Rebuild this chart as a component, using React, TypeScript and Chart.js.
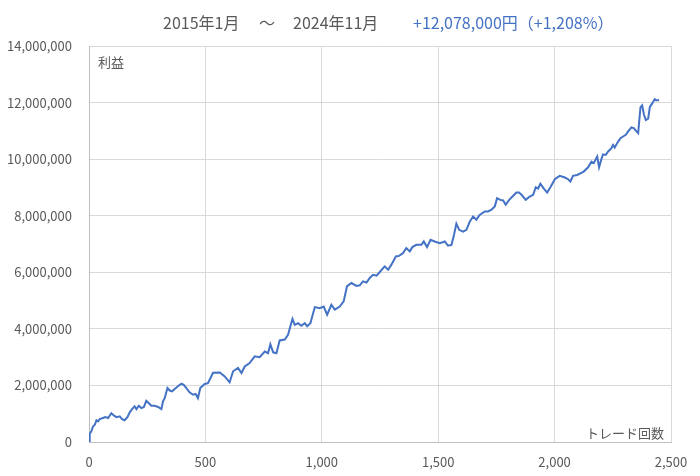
import React, { useEffect, useRef } from "react";
import { Chart, registerables } from "chart.js";

Chart.register(...registerables);

const TITLE_FROM = "2015年1月";
const TITLE_SEP = "〜";
const TITLE_TO = "2024年11月";
const TITLE_RESULT = "+12,078,000円（+1,208%）";
const Y_LABEL = "利益";
const X_LABEL = "トレード回数";

const X_MIN = 0;
const X_MAX = 2500;
const X_STEP = 500;
const Y_MIN = 0;
const Y_MAX = 14000000;
const Y_STEP = 2000000;

const TRADES = [
  0, 3, 10, 17, 25, 32, 39, 46, 60, 70, 82, 96, 108, 118, 132, 142, 153, 165, 175, 185,
  196, 204, 214, 225, 236, 246, 256, 268, 282, 297, 311, 318, 325, 337, 347, 357, 368, 382, 397, 407,
  415, 433, 447, 458, 468, 478, 497, 511, 533, 562, 583, 604, 619, 640, 655, 669, 690, 712, 733, 755,
  769, 779, 791, 805, 819, 841, 855, 865, 874, 884, 898, 912, 927, 937, 951, 970, 991, 1008, 1023, 1041,
  1056, 1077, 1094, 1108, 1127, 1149, 1163, 1177, 1192, 1206, 1220, 1235, 1249, 1270, 1285, 1299, 1318, 1332, 1349, 1363,
  1378, 1389, 1406, 1428, 1438, 1452, 1467, 1485, 1507, 1528, 1542, 1557, 1568, 1578, 1590, 1607, 1621, 1636, 1650, 1664,
  1678, 1700, 1714, 1729, 1743, 1753, 1767, 1779, 1790, 1805, 1819, 1836, 1847, 1858, 1876, 1893, 1908, 1919, 1929, 1939,
  1953, 1968, 1982, 2001, 2022, 2044, 2058, 2068, 2079, 2097, 2111, 2125, 2144, 2158, 2168, 2183, 2191, 2201, 2208, 2220,
  2230, 2244, 2251, 2258, 2273, 2283, 2294, 2306, 2316, 2330, 2340, 2352, 2359, 2363, 2369, 2376, 2384, 2392, 2402, 2409,
  2420, 2430, 2437, 2449,
];

const PROFIT = [
  0, 290000, 380000, 550000, 610000, 770000, 730000, 810000, 850000, 880000, 850000, 1020000, 930000, 880000, 910000, 810000, 770000, 880000, 1050000, 1160000,
  1260000, 1160000, 1280000, 1200000, 1240000, 1460000, 1380000, 1280000, 1280000, 1240000, 1160000, 1440000, 1550000, 1910000, 1820000, 1790000, 1870000, 1970000, 2060000, 2020000,
  1940000, 1750000, 1670000, 1700000, 1550000, 1910000, 2050000, 2080000, 2450000, 2460000, 2320000, 2110000, 2500000, 2620000, 2440000, 2670000, 2790000, 3030000, 3000000, 3200000,
  3140000, 3460000, 3170000, 3140000, 3590000, 3620000, 3790000, 4090000, 4350000, 4140000, 4200000, 4110000, 4200000, 4090000, 4200000, 4770000, 4730000, 4790000, 4500000, 4850000,
  4680000, 4790000, 4970000, 5500000, 5620000, 5520000, 5540000, 5680000, 5640000, 5800000, 5910000, 5880000, 6010000, 6210000, 6090000, 6270000, 6560000, 6580000, 6680000, 6860000,
  6740000, 6890000, 6970000, 6970000, 7090000, 6890000, 7150000, 7090000, 7030000, 7090000, 6940000, 6970000, 7330000, 7720000, 7500000, 7440000, 7500000, 7800000, 7970000, 7860000,
  8030000, 8150000, 8150000, 8210000, 8330000, 8620000, 8560000, 8540000, 8390000, 8560000, 8680000, 8820000, 8820000, 8740000, 8560000, 8680000, 8740000, 9010000, 8960000, 9130000,
  8970000, 8820000, 9010000, 9290000, 9410000, 9350000, 9290000, 9210000, 9410000, 9440000, 9500000, 9560000, 9710000, 9910000, 9860000, 10090000, 9710000, 10000000, 10170000, 10150000,
  10270000, 10390000, 10500000, 10410000, 10620000, 10740000, 10800000, 10860000, 10980000, 11120000, 11100000, 10980000, 10920000, 11300000, 11840000, 11900000, 11570000, 11380000, 11430000, 11840000,
  11980000, 12120000, 12080000, 12078000,
];

const FONT = "'Noto Sans CJK JP', 'Noto Sans', sans-serif";
const GRAY = "#595959";
const BLUE = "#4472C4";
const GRID = "#D9D9D9";

const fmt = (v: number) => Number(v).toLocaleString("en-US");

export default function App() {
  const ref = useRef<HTMLCanvasElement | null>(null);

  useEffect(() => {
    if (!ref.current) return;
    const textPlugin = {
      id: "textPlugin",
      afterDraw(chart: any) {
        const { ctx, chartArea } = chart;
        ctx.save();
        ctx.textBaseline = "middle";
        ctx.font = `16px ${FONT}`;
        ctx.textAlign = "left";
        ctx.fillStyle = GRAY;
        ctx.fillText(TITLE_FROM, 163, 23);
        ctx.fillText(TITLE_SEP, 259, 23);
        ctx.fillText(TITLE_TO, 293, 23);
        ctx.fillStyle = BLUE;
        ctx.fillText(TITLE_RESULT, 413, 23);
        ctx.font = `13px ${FONT}`;
        ctx.fillStyle = GRAY;
        ctx.fillText(Y_LABEL, chartArea.left + 9, 62);
        ctx.textAlign = "right";
        ctx.fillText(X_LABEL, chartArea.right - 7, 433);
        ctx.restore();
      },
    };

    const chart = new Chart(ref.current, {
      type: "line",
      data: {
        datasets: [
          {
            data: TRADES.map((t, i) => ({ x: t, y: PROFIT[i] })),
            borderColor: BLUE,
            backgroundColor: BLUE,
            borderWidth: 2,
            pointRadius: 0,
            tension: 0,
            fill: false,
          },
        ],
      },
      options: {
        animation: false,
        responsive: false,
        layout: { padding: { left: 0, right: 29, top: 46, bottom: 0 } },
        plugins: {
          legend: { display: false },
          title: { display: false },
          tooltip: { enabled: false },
        },
        scales: {
          x: {
            type: "linear",
            min: X_MIN,
            max: X_MAX,
            ticks: {
              stepSize: X_STEP,
              color: GRAY,
              font: { family: FONT, size: 13 },
              padding: 12,
              maxRotation: 0,
              callback: (v: any) => fmt(v),
            },
            grid: { color: GRID, drawTicks: false },
            border: { color: "#BFBFBF" },
            afterFit: (s: any) => {
              s.height = 34;
            },
          },
          y: {
            min: Y_MIN,
            max: Y_MAX,
            ticks: {
              stepSize: Y_STEP,
              color: GRAY,
              font: { family: FONT, size: 13 },
              padding: 17,
              callback: (v: any) => fmt(v),
            },
            grid: { color: GRID, drawTicks: false },
            border: { color: "#BFBFBF" },
            afterFit: (s: any) => {
              s.width = 89;
            },
          },
        },
      },
      plugins: [textPlugin],
    });
    return () => chart.destroy();
  }, []);

  return (
    <div style={{ position: "fixed", left: 0, top: 0, width: 700, height: 476, background: "#fff" }}>
      <canvas ref={ref} width={700} height={476} style={{ width: 700, height: 476 }} />
    </div>
  );
}
